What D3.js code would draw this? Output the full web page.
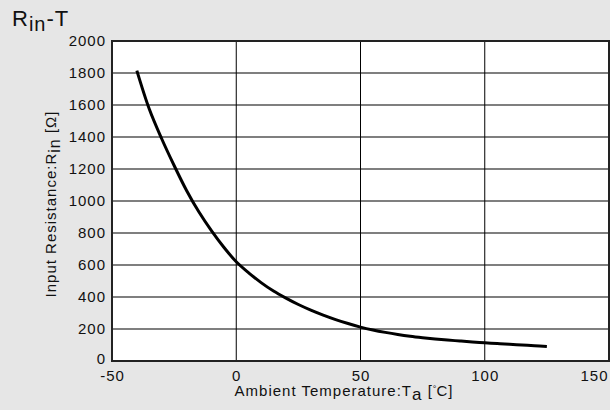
<!DOCTYPE html>
<html>
<head>
<meta charset="utf-8">
<script src="https://cdn.jsdelivr.net/npm/d3@7"></script>
<style>
  body { margin: 0; background: #e6e6e6; }
  svg { display: block; font-family: "Liberation Sans", Arial, sans-serif; }
</style>
</head>
<body>
<div class="container"></div>
<script>
var temps = [-40, -35, -30, -25, -20, -15, -10, -5, 0, 5, 10, 15, 20, 25, 30, 35, 40, 45, 50, 55, 60, 65, 70, 75, 80, 85, 90, 95, 100, 105, 110, 115, 120, 125];
var resist = [1815, 1575, 1389, 1222, 1066, 931, 815, 711, 620, 551, 490, 437, 393, 353, 318, 287, 259, 234, 212, 194, 179, 166, 155, 146, 138, 131, 125, 119, 114, 109, 104, 100, 96, 91];

var xTicks = [-50, 0, 50, 100, 150];
var yTicks = [0, 200, 400, 600, 800, 1000, 1200, 1400, 1600, 1800, 2000];

const WIDTH = 610;
const HEIGHT = 410;
const LEFT = 112, RIGHT = 609, TOP = 41, BOTTOM = 361;

var translate = function(x, y){
  return "translate(" + x + "," + y + ")";
};

var _xScale = d3.scaleLinear().domain([-50, 150]).range([LEFT, RIGHT]);
var _yScale = d3.scaleLinear().domain([0, 2000]).range([BOTTOM, TOP]);

var _line = d3.line()
  .x(function(d){ return _xScale(d[0]); })
  .y(function(d){ return _yScale(d[1]); })
  .curve(d3.curveCatmullRom);

var generateChart = function(){
  var svg = d3.select('.container').append('svg')
    .attr('width', WIDTH)
    .attr('height', HEIGHT);

  svg.append('rect').attr('width', WIDTH).attr('height', HEIGHT).attr('fill', '#e6e6e6');

  // plot area
  svg.append('rect')
    .attr('x', LEFT).attr('y', TOP)
    .attr('width', RIGHT - LEFT).attr('height', BOTTOM - TOP)
    .attr('fill', '#fff');

  // horizontal grid
  svg.append('g').selectAll('line').data(yTicks.slice(1, -1)).enter().append('line')
    .attr('x1', LEFT).attr('x2', RIGHT)
    .attr('y1', function(d){ return _yScale(d); })
    .attr('y2', function(d){ return _yScale(d); })
    .attr('stroke', '#7f7f7f').attr('stroke-width', 2);

  // vertical grid
  svg.append('g').selectAll('line').data(xTicks.slice(1, -1)).enter().append('line')
    .attr('x1', function(d){ return _xScale(d); })
    .attr('x2', function(d){ return _xScale(d); })
    .attr('y1', TOP).attr('y2', BOTTOM)
    .attr('stroke', '#000').attr('stroke-width', 1);

  // frame
  svg.append('rect')
    .attr('x', LEFT).attr('y', TOP)
    .attr('width', RIGHT - LEFT).attr('height', BOTTOM - TOP)
    .attr('fill', 'none').attr('stroke', '#222').attr('stroke-width', 2);

  // axes (labels only)
  var fmt = function(d){ return String(d); };
  var yAxis = d3.axisLeft(_yScale).tickValues(yTicks).tickFormat(fmt).tickSize(0).tickPadding(5);
  var gy = svg.append('g').attr('transform', translate(LEFT - 1, 0)).call(yAxis);
  var xAxis = d3.axisBottom(_xScale).tickValues(xTicks).tickFormat(fmt).tickSize(0).tickPadding(9);
  var gx = svg.append('g').attr('transform', translate(0, BOTTOM)).call(xAxis);
  [gx, gy].forEach(function(g){
    g.select('.domain').remove();
    g.selectAll('text').attr('font-size', 15).attr('fill', '#111')
      .attr('letter-spacing', 1)
      .attr('font-family', '"Liberation Sans", Arial, sans-serif');
  });
  // bottom y label sits a little higher, last x label inside the frame edge
  gy.selectAll('.tick').filter(function(d){ return d === 0; })
    .select('text').attr('y', -2);
  gx.selectAll('.tick').filter(function(d){ return d === 150; })
    .select('text').attr('text-anchor', 'end').attr('x', -1);

  // curve
  svg.append('path')
    .datum(d3.zip(temps, resist))
    .attr('d', _line)
    .attr('fill', 'none')
    .attr('stroke', '#000')
    .attr('stroke-width', 3);

  // x title
  var xt = svg.append('text')
    .attr('x', 344).attr('y', 396)
    .attr('text-anchor', 'middle')
    .attr('letter-spacing', 1)
    .attr('font-size', 15).attr('fill', '#111');
  xt.append('tspan').text('Ambient Temperature:T');
  xt.append('tspan').attr('dy', 4).attr('font-size', 17).text('a');
  xt.append('tspan').attr('dy', -4).text(' [');
  xt.append('tspan').attr('dy', -4).attr('font-size', 9).text('°');
  xt.append('tspan').attr('dy', 4).attr('dx', -1).text('C]');

  // y title
  var yt = svg.append('text')
    .attr('transform', translate(56, 204) + ' rotate(-90)')
    .attr('text-anchor', 'middle')
    .attr('letter-spacing', 1)
    .attr('font-size', 15).attr('fill', '#111');
  yt.append('tspan').text('Input Resistance:R');
  yt.append('tspan').attr('dy', 4).attr('font-size', 16).text('in');
  yt.append('tspan').attr('dy', -4).text(' [Ω]');

  // chart title
  var tt = svg.append('text')
    .attr('x', 12).attr('y', 26)
    .attr('letter-spacing', 1)
    .attr('font-size', 22).attr('fill', '#111');
  tt.append('tspan').text('R');
  tt.append('tspan').attr('dy', 5).attr('font-size', 20).text('in');
  tt.append('tspan').attr('dy', -5).text('-T');
};

window.onload = generateChart;
</script>
</body>
</html>
